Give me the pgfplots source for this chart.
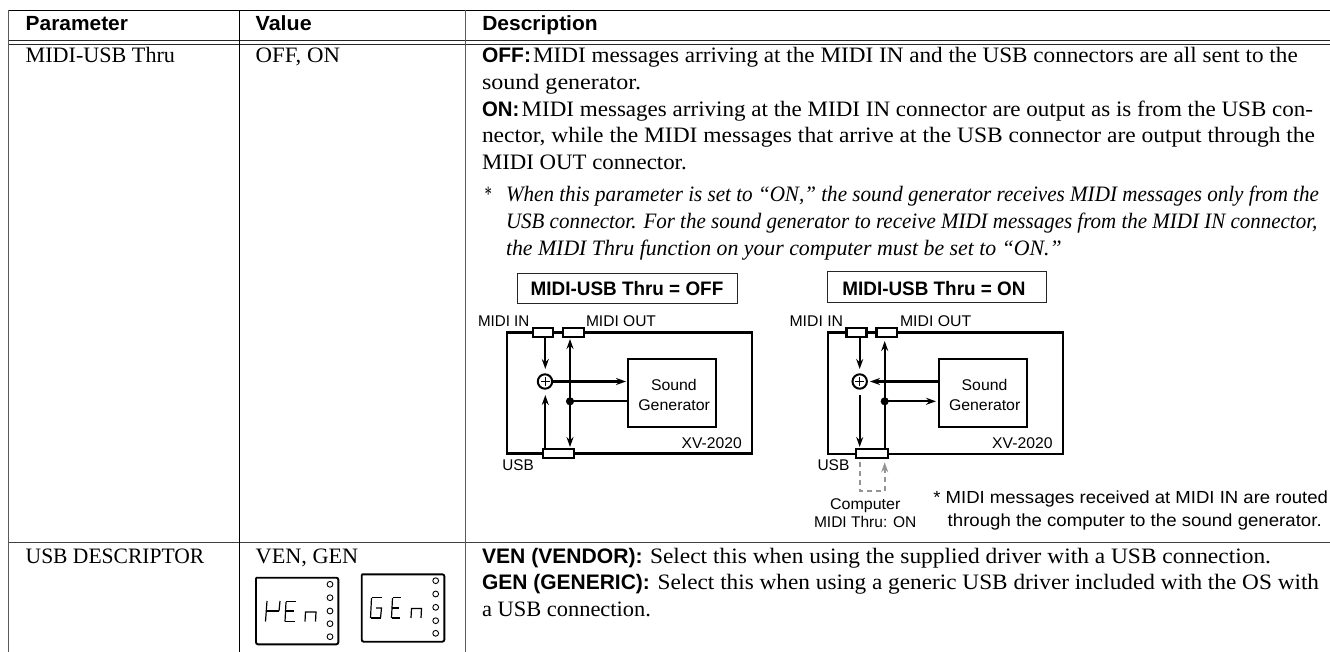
\documentclass[border=0pt]{standalone}
\usepackage{fontspec}
\usepackage{graphicx}
\usepackage{pgfplots}
\pgfplotsset{compat=1.18}
\usetikzlibrary{arrows.meta}
\setmainfont{Liberation Serif}
\newfontfamily\sansf{Liberation Sans}
\newcommand\fS{\fontsize{22}{26}\selectfont}
\newcommand\fI{\fontsize{22}{26}\selectfont\itshape}
\newcommand\fH{\fontsize{20.5}{24}\selectfont\sansf\bfseries}
\newcommand\fB{\fontsize{21}{24}\selectfont\sansf\bfseries}
\newcommand\fD{\fontsize{19.5}{24}\selectfont\sansf\bfseries}
\newcommand\fL{\fontsize{15.5}{18}\selectfont\sansf}
\newcommand\fN{\fontsize{17.5}{20}\selectfont\sansf}
% x1, baseline y, x2, font, text
\newcommand\T[5]{\node[anchor=base west,inner sep=0pt,outer sep=0pt] at (axis cs:#1,#2)
  {\pgfmathsetmacro\wdt{#3-#1}\resizebox{\wdt pt}{\height}{#4#5}};}
\newcommand\Ln[2]{\addplot[#1] coordinates {#2};}
% rectangle x1 y1 x2 y2 options
\newcommand\Rc[5]{\addplot[#5,line join=miter,line cap=rect] coordinates {(#1,#2) (#3,#2) (#3,#4) (#1,#4) (#1,#2)};}
\tikzset{
  arr/.style={line width=2.1pt,-{Stealth[length=10pt,width=7pt]}},
  dbl/.style={line width=2.1pt,{Stealth[length=10pt,width=7pt]}-{Stealth[length=10pt,width=7pt]}},
  conn/.style={draw=black,fill=white,line width=2.3pt},
  seg/.style={black,line width=1.2pt},
}
\begin{document}
\begin{tikzpicture}
\begin{axis}[
  width=1330pt,height=652pt,scale only axis,
  xmin=0,xmax=1330,ymin=0,ymax=652,y dir=reverse,
  axis lines=none,
]
% full page ground keeps the picture at the reference's size
\Rc{0}{0}{1330}{652}{draw=none,fill=white}
% table rules
\Ln{black,line width=0.9pt}{(8.7,10.3) (1330,10.3)}
\Ln{black!85,line width=0.9pt}{(8.7,40.7) (1330,40.7)}
\Ln{black!85,line width=0.9pt}{(8.7,44.3) (1330,44.3)}
\Ln{black!75,line width=0.9pt}{(8.7,542.5) (1330,542.5)}
\Ln{black!65,line width=1.3pt}{(8.7,10.3) (8.7,652)}
\Ln{black,line width=0.8pt}{(239.5,10.3) (239.5,652)}
\Ln{black!65,line width=1pt}{(465.7,10.3) (465.7,652)}

% diagram 1
\Rc{517.7}{273.3}{737.3}{303.7}{draw=black!85,line width=1.1pt}
\Rc{506.7}{332.5}{752.3}{453.5}{draw=black,line width=2.3pt}
\Rc{628.3}{359.3}{716}{426.7}{draw=black,line width=2.3pt}
\Ln{arr}{(545.3,337) (545.3,369)}
\Ln{arr}{(545.3,449) (545.3,395)}
\Ln{dbl}{(570,339) (570,447)}
\Ln{arr}{(553,381.5) (626,381.5)}
\Ln{black,line width=2.1pt}{(570,401.3) (628.3,401.3)}
\addplot[only marks,mark=*,mark size=3.8pt,mark options={fill=black,draw=black}] coordinates {(570,401.3)};
\addplot[only marks,mark=*,mark size=7.2pt,mark options={fill=white,draw=black,line width=2pt}] coordinates {(545,381.5)};
\addplot[only marks,mark=+,mark size=4.5pt,mark options={draw=black,line width=0.7pt}] coordinates {(545,381.5)};
\Rc{533.3}{327.7}{553.3}{337}{conn}
\Rc{562.7}{327.7}{583.7}{337}{conn}
\Rc{542.7}{448.7}{574}{457.7}{conn}

% diagram 2
\Rc{827.4}{271.7}{1046.6}{302.3}{draw=black!85,line width=1.1pt}
\Rc{828.3}{332.5}{1063.3}{454}{draw=black,line width=2.3pt}
\Rc{939.3}{359.3}{1027.3}{426.7}{draw=black,line width=2.3pt}
\Ln{arr}{(859.7,337) (859.7,369)}
\Ln{arr}{(859.7,395) (859.7,447)}
\Ln{arr}{(884.7,449) (884.7,341)}
\Ln{arr}{(939.3,381.5) (870,381.5)}
\Ln{arr}{(884.7,401.3) (936,401.3)}
\addplot[only marks,mark=*,mark size=3.8pt,mark options={fill=black,draw=black}] coordinates {(884.7,401.3)};
\addplot[only marks,mark=*,mark size=7.2pt,mark options={fill=white,draw=black,line width=2pt}] coordinates {(859.7,381.5)};
\addplot[only marks,mark=+,mark size=4.5pt,mark options={draw=black,line width=0.7pt}] coordinates {(859.7,381.5)};
\Rc{846.6}{327.7}{866.6}{337}{conn}
\Rc{876.5}{327.7}{896.8}{337}{conn}
\Rc{856.1}{449}{887.7}{457.7}{conn}
% computer loop
\addplot[black!42,line width=2.1pt,dash pattern=on 5pt off 4pt] coordinates {(860.3,461.7) (860.3,491) (884.7,491) (884.7,472)};
\addplot[black!42,line width=2.1pt,-{Stealth[length=10pt,width=7pt]}] coordinates {(884.7,472) (884.7,462.3)};

% panel displays
\addplot[draw=black,fill=white,line width=1.9pt,rounded corners=2pt] coordinates {(256,577.7) (338.3,577.7) (338.3,644.3) (256,644.3) (256,577.7)};
\addplot[draw=black,fill=white,line width=1.9pt,rounded corners=2pt] coordinates {(361.7,574.3) (444.3,574.3) (444.3,641.7) (361.7,641.7) (361.7,574.3)};
\addplot[only marks,mark=*,mark size=2.9pt,mark options={fill=white,draw=black,line width=0.9pt}] coordinates {(330,584.3) (330,597.7) (330,611) (330,623.7) (330,636.7)};
\addplot[only marks,mark=*,mark size=2.9pt,mark options={fill=white,draw=black,line width=0.9pt}] coordinates {(435.7,580.7) (435.7,594) (435.7,607.3) (435.7,620.7) (435.7,633.3)};
% V E n
\Ln{seg}{(267,601) (265.5,621.5)}
\Ln{seg}{(266.5,611) (279,611)}
\Ln{seg}{(280,601) (279,611)}
\Ln{seg}{(286,601.5) (296,601.5)}
\Ln{seg}{(286,602) (285,621.5)}
\Ln{seg}{(285.5,611) (294,611)}
\Ln{seg}{(285,621.5) (295,621.5)}
\Ln{seg}{(305,621.5) (305.5,612) (316,612) (315.5,621.5)}
% G E n
\Ln{seg}{(371.5,597.5) (381.5,597.5)}
\Ln{seg}{(371.5,598) (370.5,618)}
\Ln{seg}{(370.5,618) (380.5,618)}
\Ln{seg}{(380.5,618) (381.5,608) (376,608)}
\Ln{seg}{(392.5,597.5) (400.5,597.5)}
\Ln{seg}{(392.5,598) (391.5,618)}
\Ln{seg}{(392,608) (399,608)}
\Ln{seg}{(391.5,618) (400,618)}
\Ln{seg}{(411,618) (411.5,608.5) (421.5,608.5) (421,618)}

% headers
\T{25.7}{30.7}{128}{\fH}{Parameter}
\T{255.7}{30.7}{311.7}{\fH}{Value}
\T{482.3}{31}{597.7}{\fH}{Description}
\T{25.7}{62.7}{175}{\fS}{MIDI-USB Thru}
\T{255.7}{62.7}{340}{\fS}{OFF, ON}
\T{25.7}{563.3}{204.3}{\fS}{USB DESCRIPTOR}
\T{255.7}{563.3}{358.3}{\fS}{VEN, GEN}

% description
\T{482}{62.3}{531}{\fB}{OFF:}
\T{533}{62.3}{1297.7}{\fS}{MIDI messages arriving at the MIDI IN and the USB connectors are all sent to the}
\T{482}{90}{641}{\fS}{sound generator.}
\T{482}{116.7}{519.3}{\fB}{ON:}
\T{521.7}{116.7}{1313}{\fS}{MIDI messages arriving at the MIDI IN connector are output as is from the USB con-}
\T{482}{143}{1315}{\fS}{nector, while the MIDI messages that arrive at the USB connector are output through the}
\T{482}{170}{686.7}{\fS}{MIDI OUT connector.}
\T{484}{201.7}{491}{\fI}{*}
\T{506}{201.7}{1319}{\fI}{When this parameter is set to “ON,” the sound generator receives MIDI messages only from the}
\T{506}{229}{1317.3}{\fI}{USB connector. For the sound generator to receive MIDI messages from the MIDI IN connector,}
\T{506}{256}{1061.7}{\fI}{the MIDI Thru function on your computer must be set to “ON.”}

\T{482}{563.3}{642.7}{\fB}{VEN (VENDOR):}
\T{650}{563.3}{1271}{\fS}{Select this when using the supplied driver with a USB connection.}
\T{482}{589.3}{650}{\fB}{GEN (GENERIC):}
\T{657.6}{589.3}{1319}{\fS}{Select this when using a generic USB driver included with the OS with}
\T{482}{616}{651}{\fS}{a USB connection.}

% diagram 1 text
\T{530.7}{295}{723.3}{\fD}{MIDI-USB Thru = OFF}
\T{478}{326.7}{529.3}{\fL}{MIDI IN}
\T{586}{326.7}{656}{\fL}{MIDI OUT}
\T{651}{390}{696.7}{\fL}{Sound}
\T{638.3}{410.7}{710}{\fL}{Generator}
\T{681.7}{448.3}{741.7}{\fL}{XV-2020}
\T{502.3}{470.7}{533.7}{\fL}{USB}

% diagram 2 text
\T{842.4}{295}{1025.5}{\fD}{MIDI-USB Thru = ON}
\T{789.5}{326.7}{843.1}{\fL}{MIDI IN}
\T{900}{326.7}{971.2}{\fL}{MIDI OUT}
\T{961.7}{390}{1007.3}{\fL}{Sound}
\T{949}{410.7}{1020.3}{\fL}{Generator}
\T{992.2}{448.3}{1052.5}{\fL}{XV-2020}
\T{817.5}{470.7}{849.4}{\fL}{USB}
\T{830}{509}{900.4}{\fL}{Computer}
\T{814}{527.5}{916.4}{\fL}{MIDI Thru: ON}
\T{933.3}{503.5}{1328}{\fN}{* MIDI messages received at MIDI IN are routed}
\T{947.7}{526.5}{1321.7}{\fN}{through the computer to the sound generator.}
\end{axis}
\end{tikzpicture}
\end{document}
